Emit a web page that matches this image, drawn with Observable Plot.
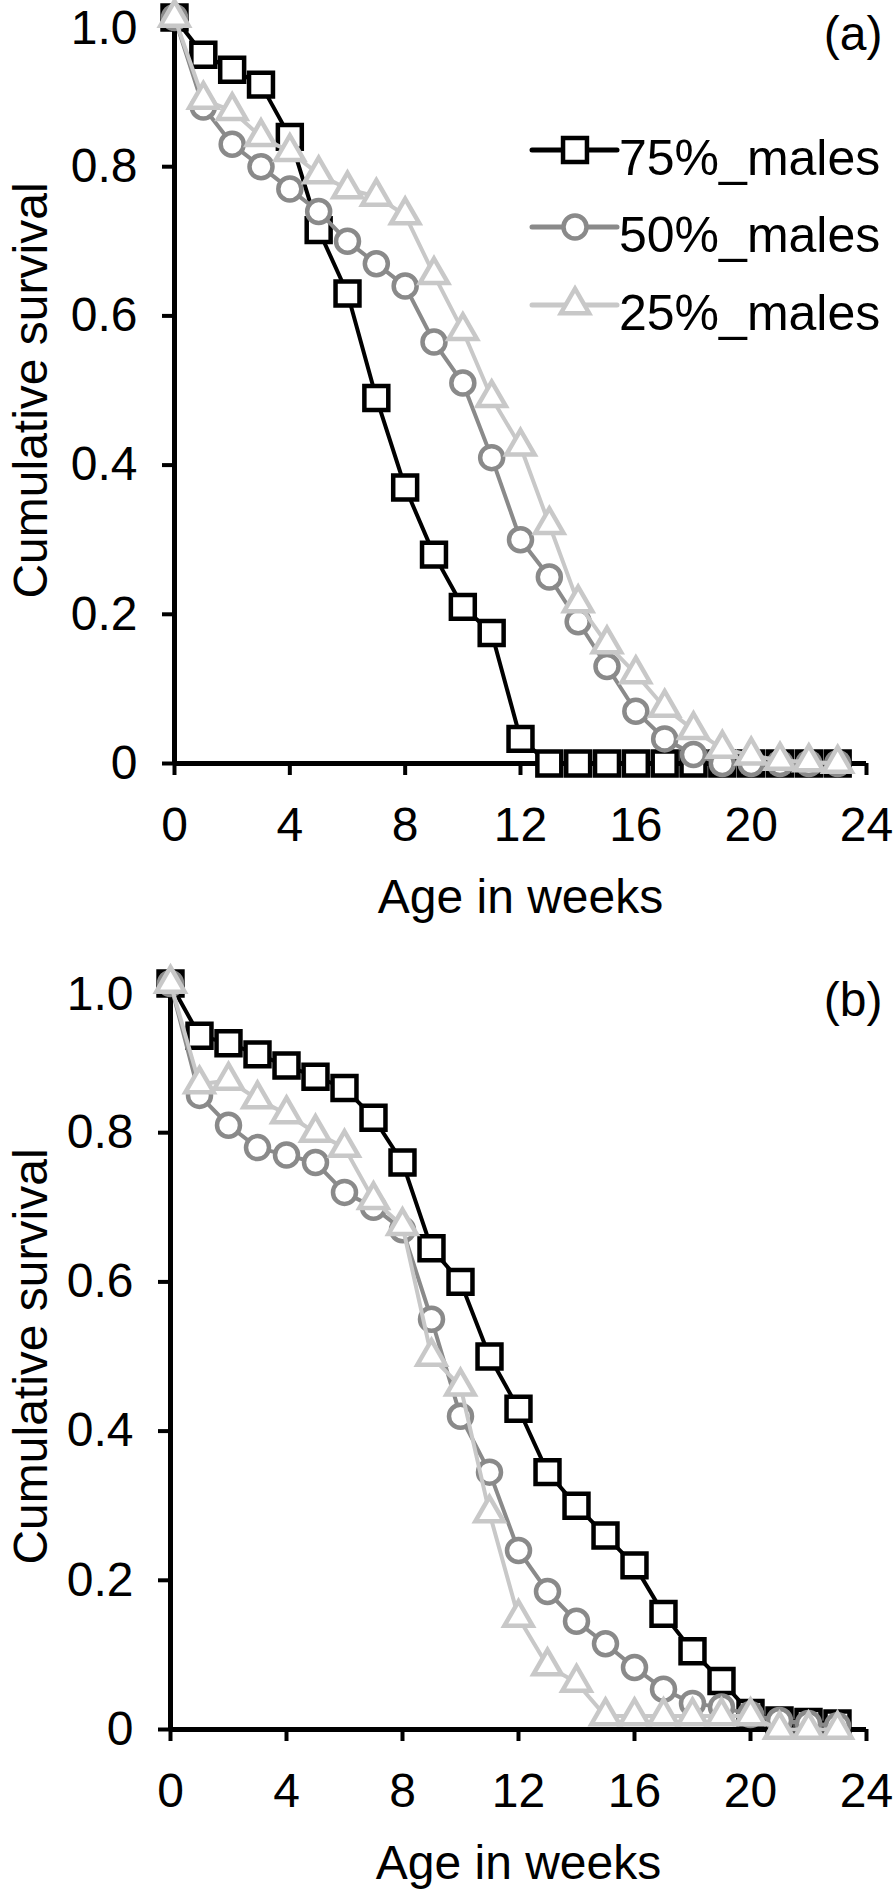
<!DOCTYPE html>
<html><head><meta charset="utf-8">
<script src="https://cdn.jsdelivr.net/npm/d3@7"></script>
<script src="https://cdn.jsdelivr.net/npm/@observablehq/plot@0.6"></script>
<style>
body{margin:0;background:#fff;}
#wrap{position:relative;width:896px;height:1893px;overflow:hidden;}
#pa,#pb{position:absolute;left:0;}
#pa{top:0}
#pb{top:966px}
#legend{position:absolute;left:0;top:0;}
</style></head><body>
<div id="wrap"><div id="pa"></div><div id="pb"></div><svg id="legend" width="896" height="360"></svg></div>
<script>
const weeks = [0,1,2,3,4,5,6,7,8,9,10,11,12,13,14,15,16,17,18,19,20,21,22,23];
const seriesNames = ["75%_males","50%_males","25%_males"];
const seriesColors = ["#000000","#8a8a8a","#c8c8c8"];
const seriesSymbols = ["square","circle","triangle"];
const seriesRadius = [13.5, 11.5, 10.5];

const panelA_75 = [1.0,0.95,0.93,0.91,0.84,0.715,0.63,0.49,0.37,0.28,0.21,0.175,0.033,0,0,0,0,0,0,0,0,0,0,0];
const panelA_50 = [1.0,0.88,0.83,0.80,0.77,0.74,0.70,0.67,0.64,0.565,0.51,0.41,0.30,0.25,0.19,0.13,0.07,0.033,0.012,0,0,0,0,0];
const panelA_25 = [1.0,0.89,0.875,0.84,0.82,0.79,0.77,0.76,0.735,0.655,0.58,0.49,0.425,0.32,0.215,0.16,0.12,0.075,0.045,0.02,0.011,0.004,0.002,0];

const panelB_75 = [1.0,0.93,0.92,0.905,0.89,0.875,0.86,0.82,0.76,0.645,0.60,0.50,0.43,0.345,0.30,0.26,0.22,0.155,0.105,0.065,0.022,0.012,0.01,0.008];
const panelB_50 = [1.0,0.85,0.81,0.78,0.77,0.76,0.72,0.70,0.67,0.55,0.42,0.345,0.24,0.185,0.145,0.115,0.083,0.054,0.035,0.03,0.02,0.012,0.008,0.005];
const panelB_25 = [1.0,0.865,0.87,0.845,0.825,0.80,0.78,0.71,0.675,0.50,0.46,0.29,0.15,0.085,0.063,0.018,0.018,0.018,0.018,0.018,0.018,0,0,0];

const xTicks = [0,4,8,12,16,20,24];
const yTicks = [0,0.2,0.4,0.6,0.8,1.0];
const yTicksLower = [0,0.2,0.4,0.6,0.8];
const yTickTop = [1.0];
const panelLabels = ["(a)","(b)"];
const xTitle = "Age in weeks";
const yTitle = "Cumulative survival";

const FONT = "'Liberation Sans', Arial, Helvetica, sans-serif";
const FS = 48;
const FS_LEG = 50;
const fmtY = d => d === 0 ? "0" : d.toFixed(1);

function panel(values, label, height, marginLeft, marginBottom) {
  const marks = [
    Plot.axisX({ticks: xTicks, tickSize: 12, tickPadding: 31, strokeWidth: 4, label: null, fontSize: FS, tickFormat: d => String(d)}),
    // tick marks for all y ticks, labels drawn separately
    Plot.axisY({ticks: yTicks, tickSize: 12, tickPadding: 25, strokeWidth: 4, label: null, fontSize: FS, tickFormat: () => ""}),
    Plot.axisY({ticks: yTicksLower, tickSize: 0, tickPadding: 37, label: null, fontSize: FS, tickFormat: fmtY}),
    // top label nudged down slightly so it stays inside the picture
    Plot.axisY({ticks: yTickTop, tickSize: 0, tickPadding: 37, label: null, fontSize: FS, dy: 11, tickFormat: fmtY}),
    Plot.ruleY([0], {strokeWidth: 5}),
    Plot.ruleX([0], {strokeWidth: 5})
  ];
  values.forEach((vals, i) => {
    const rows = weeks.map((w, j) => ({week: w, surv: vals[j]}));
    marks.push(Plot.line(rows, {x: "week", y: "surv", stroke: seriesColors[i], strokeWidth: 4}));
    marks.push(Plot.dot(rows, {x: "week", y: "surv", symbol: seriesSymbols[i], r: seriesRadius[i], fill: "white", stroke: seriesColors[i], strokeWidth: 4.5}));
  });
  marks.push(Plot.text([label], {text: d => d, frameAnchor: "top-right", textAnchor: "end", lineAnchor: "middle", dx: 16, dy: 17, fontSize: FS}));
  marks.push(Plot.text([xTitle], {text: d => d, frameAnchor: "bottom", textAnchor: "middle", lineAnchor: "middle", dy: 134, fontSize: FS}));
  marks.push(Plot.text([yTitle], {text: d => d, frameAnchor: "left", textAnchor: "middle", lineAnchor: "middle", rotate: -90, dx: 31 - marginLeft, fontSize: FS}));
  return Plot.plot({
    width: 896, height,
    marginTop: 17, marginLeft, marginRight: 30, marginBottom,
    x: {domain: [0, 24]},
    y: {domain: [0, 1]},
    style: {fontFamily: FONT, fontSize: FS + "px", color: "black", background: "white", overflow: "visible"},
    marks
  });
}

document.getElementById("pa").appendChild(panel([panelA_75, panelA_50, panelA_25], panelLabels[0], 966, 174, 203));
document.getElementById("pb").appendChild(panel([panelB_75, panelB_50, panelB_25], panelLabels[1], 927, 170, 164));

// legend (panel a)
const leg = d3.select("#legend");
const rowY = [150, 227, 305];
const symMap = {square: d3.symbolSquare, circle: d3.symbolCircle, triangle: d3.symbolTriangle};
seriesNames.forEach((name, i) => {
  const g = leg.append("g").attr("transform", `translate(0,${rowY[i]})`);
  g.append("line").attr("x1", 532).attr("x2", 617).attr("y1", 0).attr("y2", 0)
    .attr("stroke", seriesColors[i]).attr("stroke-width", 5).attr("stroke-linecap", "round");
  g.append("path").attr("transform", "translate(575,0)")
    .attr("d", d3.symbol(symMap[seriesSymbols[i]], Math.PI * seriesRadius[i] ** 2)())
    .attr("fill", "white").attr("stroke", seriesColors[i]).attr("stroke-width", 4.5);
  g.append("text").attr("x", 619).attr("y", 25).text(name)
    .attr("font-family", FONT).attr("font-size", FS_LEG).attr("fill", "black");
});
</script></body></html>
